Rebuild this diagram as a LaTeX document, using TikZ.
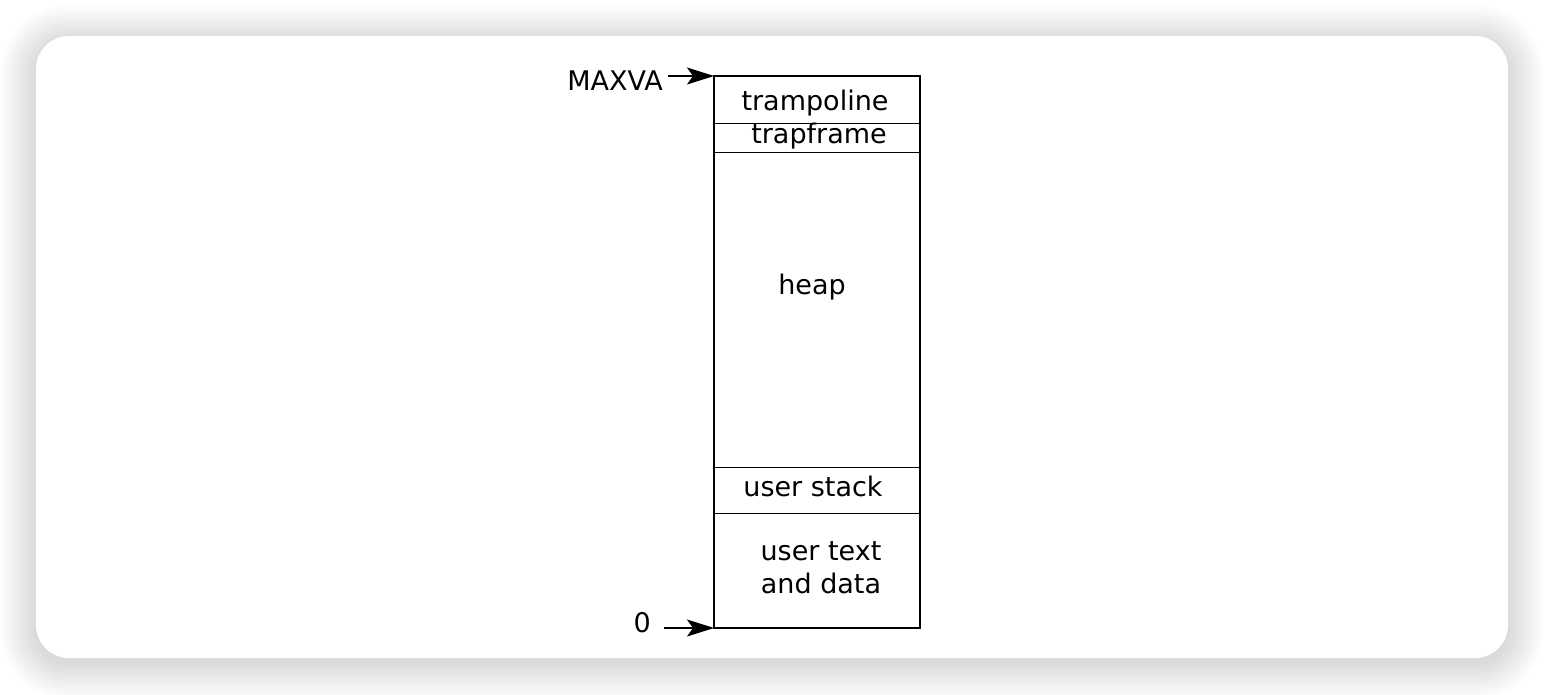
\documentclass[tikz,border=0pt]{standalone}
\usepackage{fontspec}
\setmainfont{DejaVu Sans}
\usetikzlibrary{arrows.meta}
\tikzset{
  ptr/.style={-{Stealth[length=27pt,width=17pt,inset=6pt]}, line width=1.2pt, draw=black},
  lbl/.style={inner sep=0pt, font=\fontsize{27}{33}\selectfont, align=center},
}
\begin{document}
\begin{tikzpicture}[x=1pt, y=-1pt]
\useasboundingbox (0,0) rectangle (1544,694);
\fill[white] (0,0) rectangle (1544,694);
% card with soft shadow
\foreach \i [evaluate=\i as \r using 33+2*\i] in {1,...,18}
  \fill[black, opacity=0.006, rounded corners=\r pt] (36-2*\i,41-2*\i) rectangle (1508+2*\i,663+2*\i);
\fill[white, rounded corners=33pt] (36,36) rectangle (1508,658);
% memory layout
\coordinate (top) at (714,76);
\coordinate (bot) at (714,628);
\draw[line width=2pt] (top) rectangle (920,628);
\foreach \y in {123,152,467,513}
  \draw[line width=1pt] (714,\y) -- (920,\y);
\node[lbl, anchor=base] (tramp) at (815,110) {trampoline};
\node[lbl, anchor=base] (trapf) at (819,143) {trapframe};
\node[lbl, anchor=base] (heap) at (812,294) {heap};
\node[lbl, anchor=base] (ustack) at (813,496) {user stack};
\node[lbl] (utext) at (821,568) {user text\\and data};
% address marks
\node[lbl, anchor=base east, inner xsep=5pt] (maxva) at (668,90) {MAXVA};
\node[lbl, anchor=base east, inner xsep=13pt] (zero) at (664,632) {0};
\draw[ptr] (maxva.east |- top) -- (top);
\draw[ptr] (zero.east |- bot) -- (bot);
\end{tikzpicture}
\end{document}
